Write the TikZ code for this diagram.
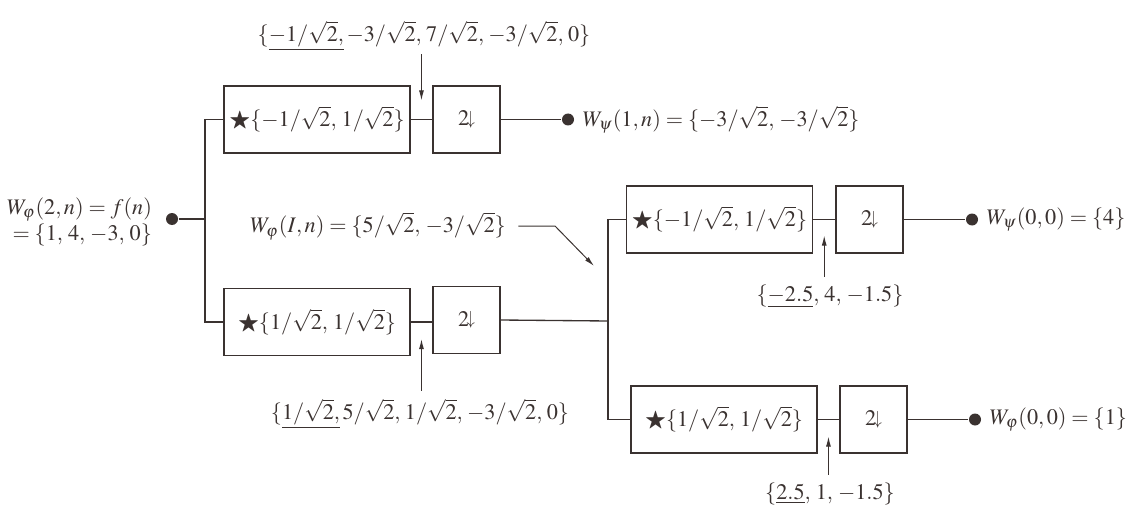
\documentclass[tikz,border=0pt]{standalone}
\usepackage{amsmath,amssymb}
\usepackage{mathptmx}
\usetikzlibrary{calc,arrows.meta}
\definecolor{ink}{RGB}{58,50,48}

\begin{document}
\begin{tikzpicture}[x=0.45pt,y=-0.45pt,ink,line width=0.6pt,
		filt/.style={draw,minimum width=83.7pt,minimum height=30.2pt,inner sep=0pt},
		down/.style={draw,minimum width=30.2pt,minimum height=30.2pt,inner sep=0pt},
		dot/.style={circle,fill,inner sep=0pt,minimum size=5.4pt},
		arr/.style={-{Latex[length=4.5pt,width=2.2pt]},line width=0.45pt}]
		\def\rt{\sqrt{2}}
		\def\sp{\mkern1.5mu}
		\def\dn{$2\mkern-2mu\raisebox{0.15ex}{\scalebox{0.75}[0.85]{$\downarrow$}}$}

		\useasboundingbox (0,0) rectangle (1133,516);

		\node[dot] (in) at (172,219) {};
		\node[anchor=east,align=right] (inlab) at (160,222) {$W_\varphi(2,n)=f(n)$\\$=\{1,\,4,\,-3,\,0\}$};
		\coordinate (s0) at (205,219);
		\coordinate (s1) at (608,321);

		\node[filt] (h1) at (317,119.5) {$\bigstar\{-1/\rt,\,1/\rt\}$};
		\node[down] (d1) at (466.5,119.5) {\dn};
		\node[filt] (h0) at (317,322) {$\bigstar\{1/\rt,\,1/\rt\}$};
		\node[down] (d0) at (466.5,320) {\dn};
		\node[filt] (h11) at (719.5,219.5) {$\bigstar\{-1/\rt,\,1/\rt\}$};
		\node[down] (d11) at (869.5,219.5) {\dn};
		\node[filt] (h10) at (724,419.5) {$\bigstar\{1/\rt,\,1/\rt\}$};
		\node[down] (d10) at (873.5,419.5) {\dn};

		\node[dot] (o1) at (568,119.5) {};
		\node[dot] (o11) at (972,219.5) {};
		\node[dot] (o10) at (975,419.5) {};
		\node[anchor=west] (w1) at (o1.east) {$W_\psi(1,n)=\{-3/\rt,\,{-3}/\rt\}$};
		\node[anchor=west] (w11) at (o11.east) {$W_\psi(0,0)=\{4\}$};
		\node[anchor=west] (w10) at (o10.east) {$W_\varphi(0,0)=\{1\}$};

		\draw (in) -- (s0);
		\draw (h1.west) -| (s0) |- (h0.west);
		\draw (h1) -- (d1);
		\draw (d1) -- (o1);
		\draw (h0) -- (h0 -| d0.west);
		\draw (d0.east) -- (s1);
		\draw (h11.west) -| (s1) |- (h10.west);
		\draw (h11) -- (d11);
		\draw (d11) -- (o11);
		\draw (h10) -- (d10);
		\draw (d10) -- (o10);

		\coordinate (m1) at ($(h1.east)!0.5!(d1.west)$);
		\coordinate (m0) at ($(h0.east)!0.5!(h0.east -| d0.west)$);
		\coordinate (m11) at ($(h11.east)!0.5!(d11.west)$);
		\coordinate (m10) at ($(h10.east)!0.5!(d10.west)$);

		\node[inner sep=1pt] (c1) at (424,36) {$\{\underline{-1/\rt,}\,{-3}/\rt,\sp7/\rt,\sp{-3}/\rt,\sp0\}$};
		\node (c0) at (420,414) {$\{\underline{1/\rt,}\,5/\rt,\sp1/\rt,\sp{-3}/\rt,\sp0\}$};
		\node (c11) at (830,296) {$\{\underline{-2.5},\,4,\,{-1.5}\}$};
		\node (c10) at (830,494) {$\{\underline{2.5},\,1,\,{-1.5}\}$};

		\draw[arr] (c1.south -| m1) -- ($(m1)+(0,-19)$);
		\draw[arr] (c0.north -| m0) -- ($(m0)+(0,17)$);
		\draw[arr] (c11.north -| m11) -- ($(m11)+(0,16)$);
		\draw[arr] (c10.north -| m10) -- ($(m10)+(0,17)$);

		\node (wI) at (378,226) {$W_\varphi(I,n)=\{5/\rt,\,{-3}/\rt\}$};
		\coordinate (b1) at (555,226);
		\coordinate (t1) at (594,266);
		\draw[arr,shorten <=2pt] (wI.east) -- (b1) -- (t1);
	\end{tikzpicture}
\end{document}
